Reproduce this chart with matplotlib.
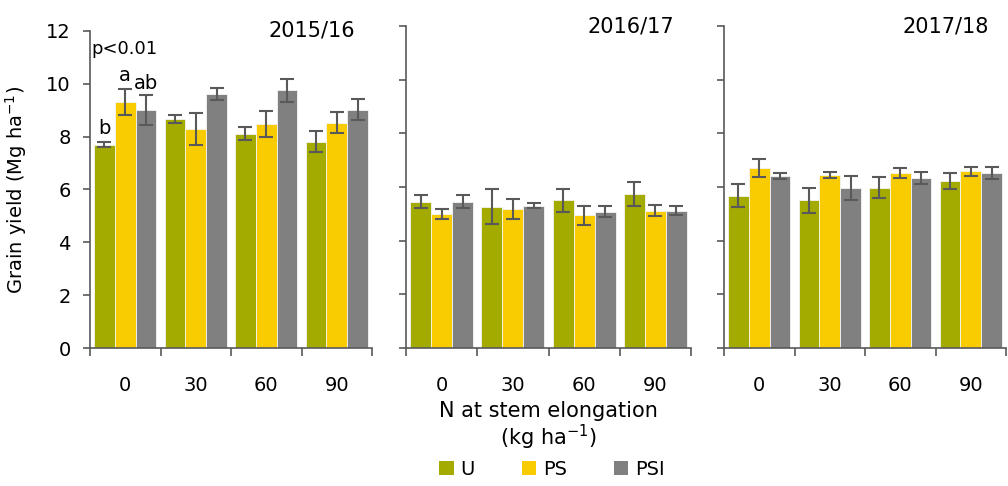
import numpy as np
import matplotlib
matplotlib.use("Agg")
import matplotlib.pyplot as plt
from matplotlib.patches import Patch

plt.rcParams['font.family'] = ['DejaVu Sans']
plt.rcParams['mathtext.default'] = 'regular'

n_rates = ["0", "30", "60", "90"]
treatments = ["U", "PS", "PSI"]
colors = ["#A3AA00", "#F8CC00", "#808080"]
seasons = ["2015/16", "2016/17", "2017/18"]

# mean grain yield per season, per treatment (U, PS, PSI), per N rate
yield_1516 = [[7.69, 8.66, 8.11, 7.81],
              [9.32, 8.29, 8.47, 8.53],
              [9.02, 9.61, 9.75, 9.02]]
err_1516 = [[0.10, 0.15, 0.24, 0.39],
            [0.50, 0.60, 0.50, 0.39],
            [0.57, 0.23, 0.42, 0.39]]

yield_1617 = [[5.45, 5.26, 5.50, 5.74],
              [5.00, 5.18, 4.94, 5.12],
              [5.45, 5.30, 5.08, 5.12]]
err_1617 = [[0.24, 0.65, 0.42, 0.43],
            [0.19, 0.36, 0.36, 0.21],
            [0.24, 0.10, 0.21, 0.17]]

yield_1718 = [[5.68, 5.50, 5.97, 6.22],
              [6.70, 6.45, 6.51, 6.58],
              [6.40, 5.97, 6.34, 6.51]]
err_1718 = [[0.42, 0.48, 0.39, 0.30],
            [0.33, 0.12, 0.18, 0.16],
            [0.12, 0.45, 0.21, 0.22]]

data = [(yield_1516, err_1516), (yield_1617, err_1617), (yield_1718, err_1718)]

W, H = 1008, 486
fig = plt.figure(figsize=(W / 100, H / 100), dpi=100)

# panel boxes in pixels: left, right, top
boxes = [(90, 372, 31), (406, 691, 26), (724, 1006, 26)]
y_bottom = 348
axc = "#595959"
bw = 0.295

axes = []
for k, (l, r, t) in enumerate(boxes):
    ax = fig.add_axes([l / W, (H - y_bottom) / H, (r - l) / W, (y_bottom - t) / H])
    axes.append(ax)
    means, errs = data[k]
    x = np.arange(len(n_rates)) + 0.5
    for j in range(3):
        ax.bar(x + (j - 1) * bw, means[j], bw, color=colors[j],
               edgecolor="#f4f4f4", linewidth=0.6, zorder=2)
        ax.errorbar(x + (j - 1) * bw, means[j], yerr=errs[j], fmt="none",
                    ecolor=axc, elinewidth=1.5, capsize=5, capthick=1.5, zorder=3)
    ax.set_xlim(0, 4)
    ax.set_ylim(0, 12)
    ax.set_yticks(np.arange(0, 13, 2))
    ax.set_xticks(np.arange(0, 5))
    ax.set_xticklabels([])
    ax.set_xticks(x, minor=True)
    ax.set_xticklabels(n_rates, minor=True, fontsize=14)
    ax.tick_params(axis="x", which="major", length=6, width=1.2, color=axc, direction="out")
    ax.tick_params(axis="x", which="minor", length=0, pad=20)
    ax.tick_params(axis="y", length=5, width=1.2, color=axc, direction="out", pad=9, labelsize=14)
    if k > 0:
        ax.set_yticklabels([])
    for s in ["top", "right"]:
        ax.spines[s].set_visible(False)
    for s in ["left", "bottom"]:
        ax.spines[s].set_color(axc)
        ax.spines[s].set_linewidth(1.2)
    ax.text(0.94, 1.0, seasons[k], transform=ax.transAxes, ha="right", va="center",
            fontsize=15)

ax0 = axes[0]
ax0.text(0.02, 11.3, "p<0.01", fontsize=13, ha="left", va="center")
ax0.text(0.5 - bw, 8.3, "b", fontsize=14, ha="center", va="center")
ax0.text(0.5, 10.3, "a", fontsize=14, ha="center", va="center")
ax0.text(0.5 + bw, 10.0, "ab", fontsize=14, ha="center", va="center")
ax0.set_ylabel("Grain yield (Mg ha$^{-1}$)", fontsize=14, labelpad=12)

fig.text(548 / W, 1 - 411 / H, "N at stem elongation", ha="center", va="center", fontsize=15)
fig.text(548 / W, 1 - 437 / H, "(kg ha$^{-1}$)", ha="center", va="center", fontsize=15)

handles = [Patch(facecolor=c, edgecolor="none") for c in colors]
fig.legend(handles, treatments, loc="center", bbox_to_anchor=(552 / W, 1 - 469 / H),
           ncol=3, frameon=False, fontsize=14, handlelength=0.75, handleheight=0.75,
           handletextpad=0.35, columnspacing=2.4)

fig.savefig("out.png", dpi=100)
